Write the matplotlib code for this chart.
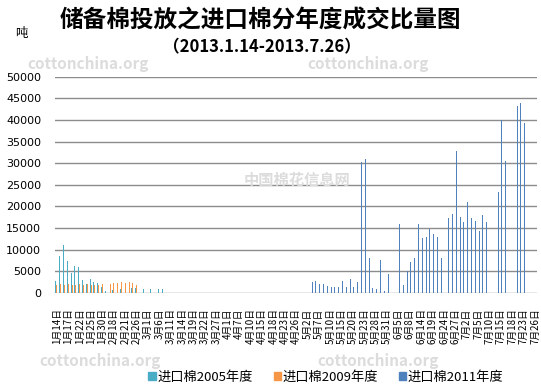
import matplotlib
matplotlib.use("Agg")
import matplotlib.pyplot as plt
import numpy as np

plt.rcParams['font.family'] = ['Noto Sans CJK SC', 'DejaVu Sans']

# trading days (month -> days)
month_days = {
    1: [14, 15, 16, 17, 18, 21, 22, 23, 24, 25, 28, 29, 30, 31],
    2: [1, 18, 19, 20, 21, 22, 25, 26, 27, 28],
    3: [1, 4, 5, 6, 7, 8, 11, 12, 13, 14, 15, 18, 19, 20, 21, 22, 25, 26, 27, 28, 29],
    4: [1, 2, 3, 7, 8, 9, 10, 11, 12, 15, 16, 17, 18, 19, 22, 23, 24, 25, 26, 27, 28],
    5: [2, 3, 6, 7, 8, 9, 10, 13, 14, 15, 16, 17, 20, 21, 22, 23, 24, 27, 28, 29, 30, 31],
    6: [3, 4, 5, 6, 7, 8, 9, 13, 14, 17, 18, 19, 20, 21, 24, 25, 26, 27, 28],
    7: [1, 2, 3, 4, 5, 8, 9, 10, 11, 12, 15, 16, 17, 18, 19, 22, 23, 24, 25, 26],
}
categories = [f"{m}月{d}日" for m, ds in month_days.items() for d in ds]

series_names = ["进口棉2005年度", "进口棉2009年度", "进口棉2011年度"]

# 进口棉2005年度 (tons)
s2005 = (
    [2800, 8500, 11200, 7500, 4600, 6300, 5900, 3000, 2100, 3300, 2500, 2200, 1500, 500]       # Jan
    + [0, 800, 0, 1000, 0, 0, 1200, 1200, 0, 1000]                                              # Feb
    + [1000, 1000, 0, 1000, 1000, 0, 0, 0, 0, 0, 0, 0, 0, 0, 0, 0, 0, 0, 0, 0, 0]              # Mar
    + [0] * 21                                                                                  # Apr
    + [0] * 22                                                                                  # May
    + [0] * 19                                                                                  # Jun
    + [0] * 20                                                                                  # Jul
)
# 进口棉2009年度 (tons)
s2009 = (
    [1800, 2000, 1900, 2000, 1800, 1900, 2000, 1800, 2000, 1800, 1900, 1800, 2000, 0]           # Jan
    + [2000, 2200, 2400, 2600, 2300, 2500, 2200, 1800, 0, 0]                                    # Feb
    + [0] * 21                                                                                  # Mar
    + [0] * 21                                                                                  # Apr
    + [0] * 22                                                                                  # May
    + [0] * 19                                                                                  # Jun
    + [0] * 20                                                                                  # Jul
)
# 进口棉2011年度 (tons)
s2011 = (
    [0] * 14                                                                                    # Jan
    + [0] * 10                                                                                  # Feb
    + [0] * 21                                                                                  # Mar
    + [0] * 21                                                                                  # Apr
    + [0, 2600, 2850, 2150, 2150, 1700, 1450, 1450, 1450, 2850, 1450, 3300, 1450, 2600,
       30200, 31000, 8000, 1200, 1000, 7700, 500, 4400]                                         # May
    + [0, 0, 16000, 1900, 5000, 7200, 8100, 16000, 12800, 13000, 14900, 13700, 13000,
       8100, 20800, 17400, 18300, 32800, 17600]                                                 # Jun
    + [16500, 21000, 17400, 16700, 14400, 18100, 16300, 0, 0, 23400, 40000, 30600, 0, 0,
       43300, 44000, 39200, 0, 0, 0]                                                            # Jul
)

y_ticks = list(range(0, 50001, 5000))
colors = ["#4BACC6", "#F79646", "#4F81BD"]

fig = plt.figure(figsize=(5.41, 3.90), dpi=100)
ax = fig.add_axes([55 / 541, 97 / 390, 482 / 541, 216.3 / 390])

x = np.arange(len(categories))
w = 0.26
for k, (vals, c, name) in enumerate(zip([s2005, s2009, s2011], colors, series_names)):
    ax.bar(x + (k - 1) * w, vals, width=w, color=c, label=name, linewidth=0, zorder=3)

ax.set_xlim(-0.5, len(categories) - 0.5)
ax.set_ylim(0, 50000)
ax.set_yticks(y_ticks)
ax.set_yticklabels([str(t) for t in y_ticks], fontsize=8, family=['DejaVu Sans'])
ax.grid(axis='y', color='#8c8c8c', linewidth=1.0, zorder=0)
for sp in ax.spines.values():
    sp.set_visible(False)
ax.tick_params(axis='y', length=0, pad=10)
ax.tick_params(axis='x', length=0, pad=11)
ax.set_xticks(x[::3])
ax.set_xticklabels(categories[::3], rotation=90, fontsize=7)

fig.text(260 / 541, 1 - 21 / 390, "储备棉投放之进口棉分年度成交比量图", ha='center', va='center',
         fontsize=17, fontweight='bold')
fig.text(262 / 541, 1 - 47 / 390, "（2013.1.14-2013.7.26）", ha='center', va='center',
         fontsize=12, fontweight='bold')
fig.text(21 / 541, 1 - 33 / 390, "吨", ha='center', va='center', fontsize=9)

# watermarks
wm = dict(color='#dcdcdc', fontsize=11, fontweight='bold', zorder=0)
fig.text(88 / 541, 1 - 64 / 390, "cottonchina.org", ha='center', va='center', **wm)
fig.text(368 / 541, 1 - 64 / 390, "cottonchina.org", ha='center', va='center', **wm)
fig.text(297 / 541, 1 - 180 / 390, "中国棉花信息网", ha='center', va='center', **wm)
fig.text(100 / 541, 1 - 361 / 390, "cottonchina.org", ha='center', va='center', **wm)
fig.text(378 / 541, 1 - 361 / 390, "cottonchina.org", ha='center', va='center', **wm)

handles = [plt.Rectangle((0, 0), 1, 1, color=c) for c in colors]
fig.legend(handles, series_names, loc='center', bbox_to_anchor=(326 / 541, 1 - 377 / 390),
           ncol=3, frameon=False, fontsize=9.5, handlelength=0.55, handleheight=0.55,
           handletextpad=0.15, columnspacing=1.55)

fig.savefig("out.png", dpi=100)
